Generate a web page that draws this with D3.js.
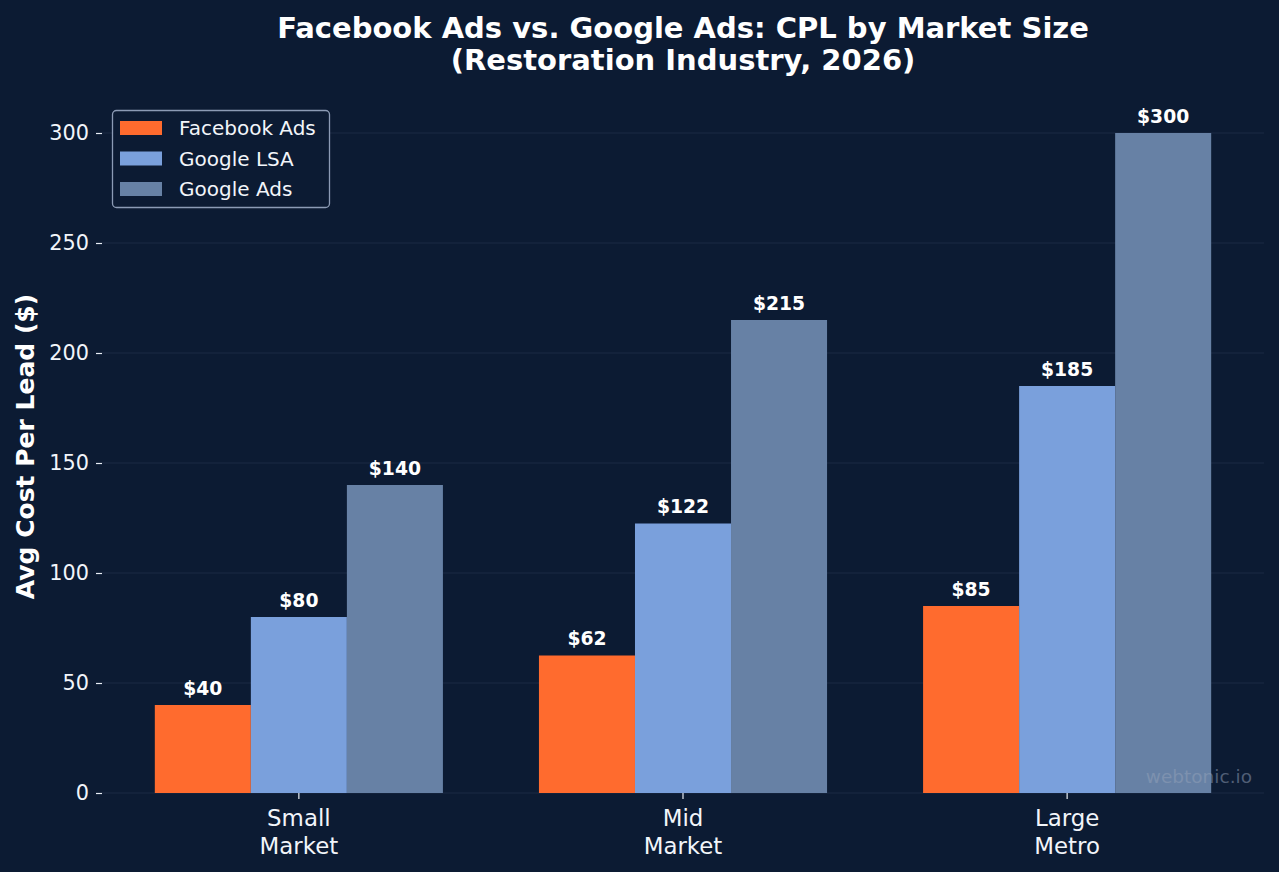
<!DOCTYPE html>
<html>
<head>
<meta charset="utf-8">
<script src="https://cdn.jsdelivr.net/npm/d3@7"></script>
<style>
    html, body { margin: 0; padding: 0; background: #0c1b33; }
    svg { display: block; font-family: "DejaVu Sans", sans-serif; }
</style>
</head>
<body>
<svg id="chart" width="1279" height="872"></svg>
<script>

// Data
const categories = ['Small\nMarket', 'Mid\nMarket', 'Large\nMetro'];
const seriesNames = ['Facebook Ads', 'Google LSA', 'Google Ads'];
const facebookAds = [40, 62.5, 85];
const googleLsa = [80, 122.5, 185];
const googleAds = [140, 215, 300];
const yTicks = [0, 50, 100, 150, 200, 250, 300];

// Constants
const WIDTH = 1279, HEIGHT = 872;
const MARGIN = { top: 100, right: 15, bottom: 79, left: 102 };
const BG = '#0c1b33';
const COLORS = ['#ff6b2e', '#7aa0dc', '#6781a5'];
const TEXT = '#ffffff';
const GRID = '#1a2a45';

const series = [facebookAds, googleLsa, googleAds];

// Python-like rounding (half to even) for the value labels
const roundHalfEven = (v) => {
    const f = Math.floor(v), d = v - f;
    if (d > 0.5) return f + 1;
    if (d < 0.5) return f;
    return f % 2 === 0 ? f : f + 1;
};
const fmt = (v) => '$' + roundHalfEven(v);

const svg = d3.select('#chart');
svg.append('rect').attr('width', WIDTH).attr('height', HEIGHT).attr('fill', BG);

const x0 = d3.scaleLinear()
    .domain([-0.5125, categories.length - 1 + 0.5125])
    .range([MARGIN.left, WIDTH - MARGIN.right]);
const barW = 0.25;

const y = d3.scaleLinear()
    .domain([0, 315])
    .range([HEIGHT - MARGIN.bottom, MARGIN.top]);

// Grid
svg.append('g')
    .selectAll('line')
    .data(yTicks)
    .enter().append('line')
    .attr('x1', x0.range()[0])
    .attr('x2', x0.range()[1])
    .attr('y1', (d) => y(d))
    .attr('y2', (d) => y(d))
    .attr('stroke', GRID)
    .attr('stroke-width', 1.2);

// Y axis
const yAxis = svg.append('g')
    .attr('transform', `translate(${MARGIN.left},0)`)
    .call(d3.axisLeft(y).tickValues(yTicks).tickSize(6).tickPadding(7));
yAxis.select('.domain').remove();
yAxis.selectAll('.tick line').attr('stroke', '#e8edf5').attr('stroke-width', 1.2);
yAxis.selectAll('.tick text')
    .attr('fill', '#f2f5fa')
    .attr('font-size', '20.8px')
    .attr('font-family', '"DejaVu Sans", sans-serif');

// X axis
const xAxis = svg.append('g')
    .attr('transform', `translate(0,${y(0)})`);
const xTick = xAxis.selectAll('g')
    .data(categories)
    .enter().append('g')
    .attr('transform', (d, i) => `translate(${x0(i)},0)`);
xTick.append('line')
    .attr('y1', 0).attr('y2', 6)
    .attr('stroke', '#e8edf5').attr('stroke-width', 1.2);
xTick.append('text')
    .attr('text-anchor', 'middle')
    .attr('fill', '#f2f5fa')
    .attr('font-size', '22.9px')
    .selectAll('tspan')
    .data((d) => d.split('\n'))
    .enter().append('tspan')
    .attr('x', 0)
    .attr('y', (d, i) => 33 + i * 27.5)
    .text((d) => d);

// Bars
series.forEach((vals, s) => {
    const g = svg.append('g');
    g.selectAll('rect')
        .data(vals)
        .enter().append('rect')
        .attr('x', (d, i) => x0(i + (s - 1.5) * barW))
        .attr('width', x0(barW) - x0(0))
        .attr('y', (d) => y(d))
        .attr('height', (d) => y(0) - y(d))
        .attr('fill', COLORS[s]);
    g.selectAll('text')
        .data(vals)
        .enter().append('text')
        .attr('x', (d, i) => x0(i + (s - 1) * barW))
        .attr('y', (d) => y(d) - 10.5)
        .attr('text-anchor', 'middle')
        .attr('fill', TEXT)
        .attr('font-weight', 'bold')
        .attr('font-size', '18.75px')
        .text(fmt);
});

// Title
svg.append('text')
    .attr('x', (x0.range()[0] + x0.range()[1]) / 2)
    .attr('text-anchor', 'middle')
    .attr('fill', TEXT)
    .attr('font-weight', 'bold')
    .attr('font-size', '29px')
    .selectAll('tspan')
    .data(['Facebook Ads vs. Google Ads: CPL by Market Size', '(Restoration Industry, 2026)'])
    .enter().append('tspan')
    .attr('x', (x0.range()[0] + x0.range()[1]) / 2)
    .attr('y', (d, i) => 38 + i * 32)
    .text((d) => d);

// Y label
svg.append('text')
    .attr('transform', `translate(34,${(y(0) + y(315)) / 2}) rotate(-90)`)
    .attr('text-anchor', 'middle')
    .attr('fill', TEXT)
    .attr('font-weight', 'bold')
    .attr('font-size', '25px')
    .text('Avg Cost Per Lead ($)');

// Watermark (semi-transparent, drawn over the bars)
svg.append('text')
    .attr('x', 1252)
    .attr('y', 783)
    .attr('text-anchor', 'end')
    .attr('fill', '#94a1b9')
    .attr('fill-opacity', 0.5)
    .attr('font-size', '18.5px')
    .text('webtonic.io');

// Legend
const legend = svg.append('g').attr('transform', 'translate(112,110)');
legend.append('rect')
    .attr('x', 0.5).attr('y', 0.5)
    .attr('width', 217).attr('height', 97)
    .attr('rx', 4)
    .attr('fill', BG)
    .attr('stroke', '#8c9bb5')
    .attr('stroke-width', 1.3);
const item = legend.selectAll('g.item')
    .data(seriesNames)
    .enter().append('g')
    .attr('class', 'item')
    .attr('transform', (d, i) => `translate(0,${18 + i * 30.5})`);
item.append('rect')
    .attr('x', 8).attr('y', -7)
    .attr('width', 42).attr('height', 14)
    .attr('fill', (d, i) => COLORS[i]);
item.append('text')
    .attr('x', 67).attr('y', 7)
    .attr('fill', '#f2f5fa')
    .attr('font-size', '20px')
    .text((d) => d);

</script>
</body>
</html>
